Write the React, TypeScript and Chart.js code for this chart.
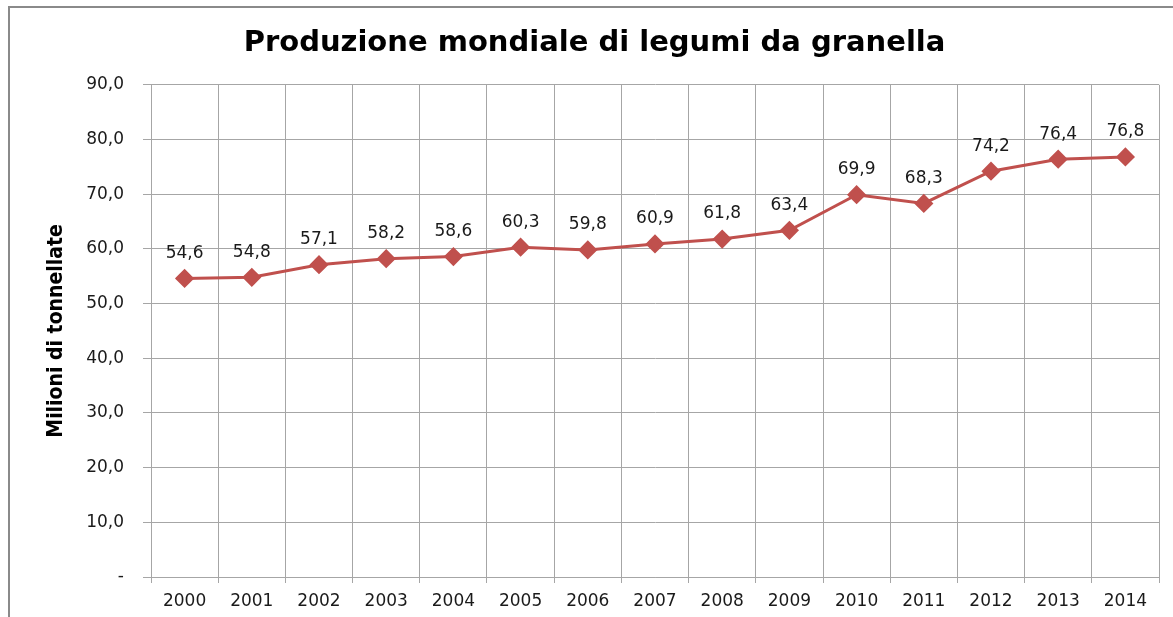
import React, { useEffect, useRef } from "react";
import { Chart, registerables } from "chart.js";

Chart.register(...registerables);

const years = ["2000", "2001", "2002", "2003", "2004", "2005", "2006", "2007", "2008", "2009", "2010", "2011", "2012", "2013", "2014"];
const production = [54.6, 54.8, 57.1, 58.2, 58.6, 60.3, 59.8, 60.9, 61.8, 63.4, 69.9, 68.3, 74.2, 76.4, 76.8];
const titleText = "Produzione mondiale di legumi da granella";
const yTitleText = "Milioni di tonnellate";

const fmt = (v: number) => (v === 0 ? "-" : v.toFixed(1).replace(".", ","));

const frame = {
  id: "frame",
  beforeDraw(chart: any) {
    const ctx = chart.ctx;
    ctx.save();
    ctx.fillStyle = "#ffffff";
    ctx.fillRect(0, 0, chart.width, chart.height);
    ctx.strokeStyle = "#8a8a8a";
    ctx.lineWidth = 2;
    ctx.beginPath();
    ctx.moveTo(9, chart.height + 5);
    ctx.lineTo(9, 7);
    ctx.lineTo(chart.width + 5, 7);
    ctx.stroke();
    ctx.restore();
  },
};

const dataLabels = {
  id: "dataLabels",
  afterDatasetsDraw(chart: any) {
    const ctx = chart.ctx;
    const meta = chart.getDatasetMeta(0);
    ctx.save();
    ctx.font = "17px 'DejaVu Sans', sans-serif";
    ctx.fillStyle = "#1a1a1a";
    ctx.textAlign = "center";
    ctx.textBaseline = "middle";
    meta.data.forEach((pt: any, i: number) => {
      ctx.fillText(fmt(production[i]), pt.x, pt.y - 25);
    });
    ctx.restore();
  },
};

export default function App() {
  const ref = useRef<HTMLCanvasElement>(null);
  useEffect(() => {
    if (!ref.current) return;
    const chart = new Chart(ref.current, {
      type: "line",
      data: {
        labels: years,
        datasets: [
          {
            data: production,
            borderColor: "#c0504d",
            backgroundColor: "#c0504d",
            borderWidth: 3,
            pointStyle: "rectRot",
            pointRadius: 7.5,
            pointHoverRadius: 7.5,
            tension: 0,
          },
        ],
      },
      options: {
        responsive: false,
        animation: false,
        events: [],
        layout: { padding: { left: 30, right: 14, top: 0, bottom: 0 } },
        plugins: {
          legend: { display: false },
          tooltip: { enabled: false },
          title: {
            display: true,
            text: titleText,
            color: "#000000",
            font: { family: "'DejaVu Sans', sans-serif", size: 29, weight: "bold", lineHeight: 1.2 },
            padding: { top: 26, bottom: 24 },
          },
        },
        scales: {
          x: {
            type: "category",
            offset: true,
            grid: { offset: true, color: "#a6a6a6", lineWidth: 1, tickLength: 6, drawTicks: true },
            border: { color: "#a6a6a6" },
            ticks: { color: "#1a1a1a", font: { family: "'DejaVu Sans', sans-serif", size: 17 }, padding: 8, maxRotation: 0, autoSkip: false },
            afterFit(scale: any) {
              scale.height = 40;
            },
          },
          y: {
            min: 0,
            max: 90,
            grid: { color: "#a6a6a6", lineWidth: 1, tickLength: 8, drawTicks: true },
            border: { color: "#a6a6a6" },
            ticks: {
              stepSize: 10,
              color: "#1a1a1a",
              font: { family: "'DejaVu Sans', sans-serif", size: 17 },
              padding: 19,
              callback: (v: any) => fmt(Number(v)),
            },
            title: {
              display: true,
              text: yTitleText,
              color: "#000000",
              font: { family: "'Liberation Sans Narrow', 'DejaVu Sans Condensed', sans-serif", size: 21, weight: "bold", lineHeight: 1.2 },
              padding: { top: 14, bottom: 0 },
            },
            afterFit(scale: any) {
              scale.width = 121;
            },
          },
        },
      },
      plugins: [frame, dataLabels],
    });
    return () => chart.destroy();
  }, []);
  return (
    <div style={{ position: "absolute", left: 0, top: 0, width: 1173, height: 617 }}>
      <canvas ref={ref} width={1173} height={617} style={{ display: "block", width: 1173, height: 617 }} />
    </div>
  );
}
